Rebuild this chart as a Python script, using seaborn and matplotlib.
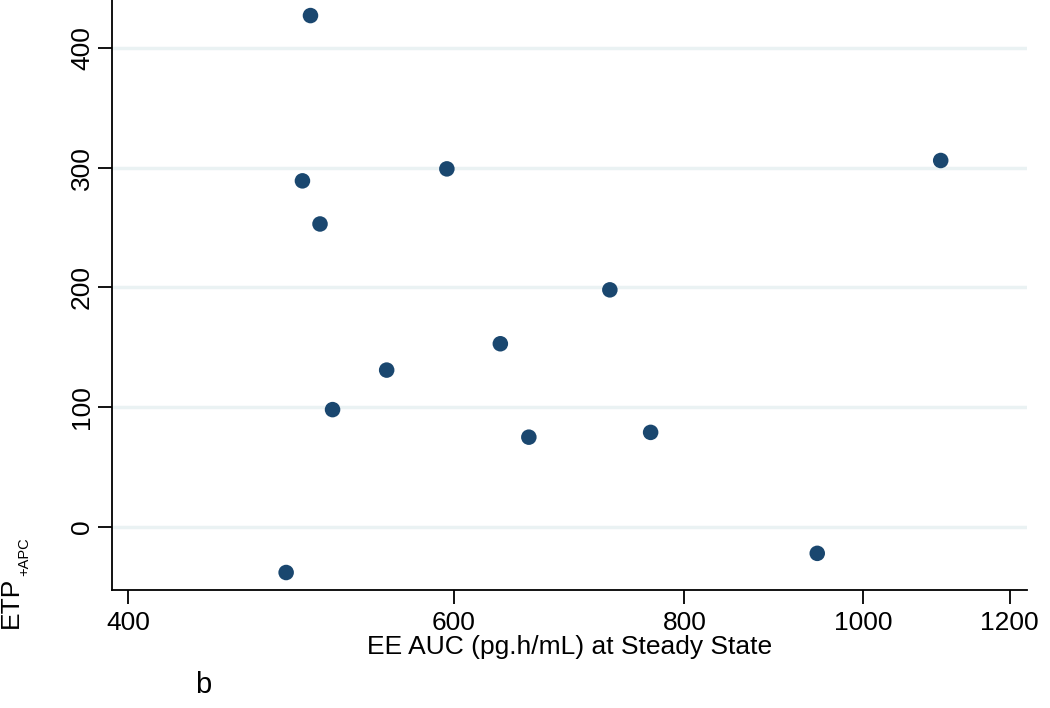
import matplotlib.pyplot as plt
import pandas as pd
import seaborn as sns
from matplotlib.ticker import FixedLocator, NullLocator

sns.set_style("white")
plt.rcParams["font.family"] = ["Liberation Sans", "DejaVu Sans"]
for key in ["text.color", "axes.labelcolor", "xtick.color", "ytick.color"]:
    plt.rcParams[key] = "black"

# EE AUC at steady state vs ETP (+APC)
ee_auc = [502, 497, 595, 508, 1101, 729, 636, 552, 516, 659, 767, 944, 487]
etp_apc = [427, 289, 299, 253, 306, 198, 153, 131, 98, 75, 79, -22, -38]

x_ticks = [400, 600, 800, 1000, 1200]
y_ticks = [0, 100, 200, 300, 400]

df = pd.DataFrame({"ee_auc": ee_auc, "etp_apc": etp_apc})

fig = plt.figure(figsize=(10.5, 7.08), dpi=100)
ax = fig.add_axes([112 / 1050, 118 / 708, 915 / 1050, 590 / 708])

ax.set_xscale("log")
for y in y_ticks:
    ax.axhline(y, color="#eaf2f3", lw=2.5, zorder=0)

sns.scatterplot(data=df, x="ee_auc", y="etp_apc", ax=ax, s=125,
                color="#1a476f", edgecolor="none", zorder=3)

ax.set_xlim(392, 1226)
ax.set_ylim(-52.6, 440)
ax.xaxis.set_major_locator(FixedLocator(x_ticks))
ax.xaxis.set_minor_locator(NullLocator())
ax.set_xticklabels([str(t) for t in x_ticks])
ax.set_yticks(y_ticks)
ax.set_yticklabels([str(t) for t in y_ticks], rotation=90, va="center")

ax.tick_params(axis="both", direction="out", length=10, width=1.3,
               labelsize=19, color="black")
ax.tick_params(axis="x", bottom=True, pad=5)
ax.tick_params(axis="y", left=True, pad=3)

ax.spines["top"].set_visible(False)
ax.spines["right"].set_visible(False)
for side in ["left", "bottom"]:
    ax.spines[side].set_color("black")
    ax.spines[side].set_linewidth(1.3)

ax.set_xlabel("EE AUC (pg.h/mL) at Steady State", fontsize=19, labelpad=0)
ax.set_ylabel("")

# y title with a hand-set subscript
fig.text(18 / 1050, 1 - 628 / 708, "ETP", fontsize=19, rotation=90,
         rotation_mode="anchor", ha="left", va="baseline")
fig.text(28 / 1050, 1 - 576 / 708, "+APC", fontsize=10.5, rotation=90,
         rotation_mode="anchor", ha="left", va="baseline")
fig.text(195 / 1050, 1 - 685 / 708, "b", fontsize=21, va="center")

fig.savefig("out.png", dpi=100)
